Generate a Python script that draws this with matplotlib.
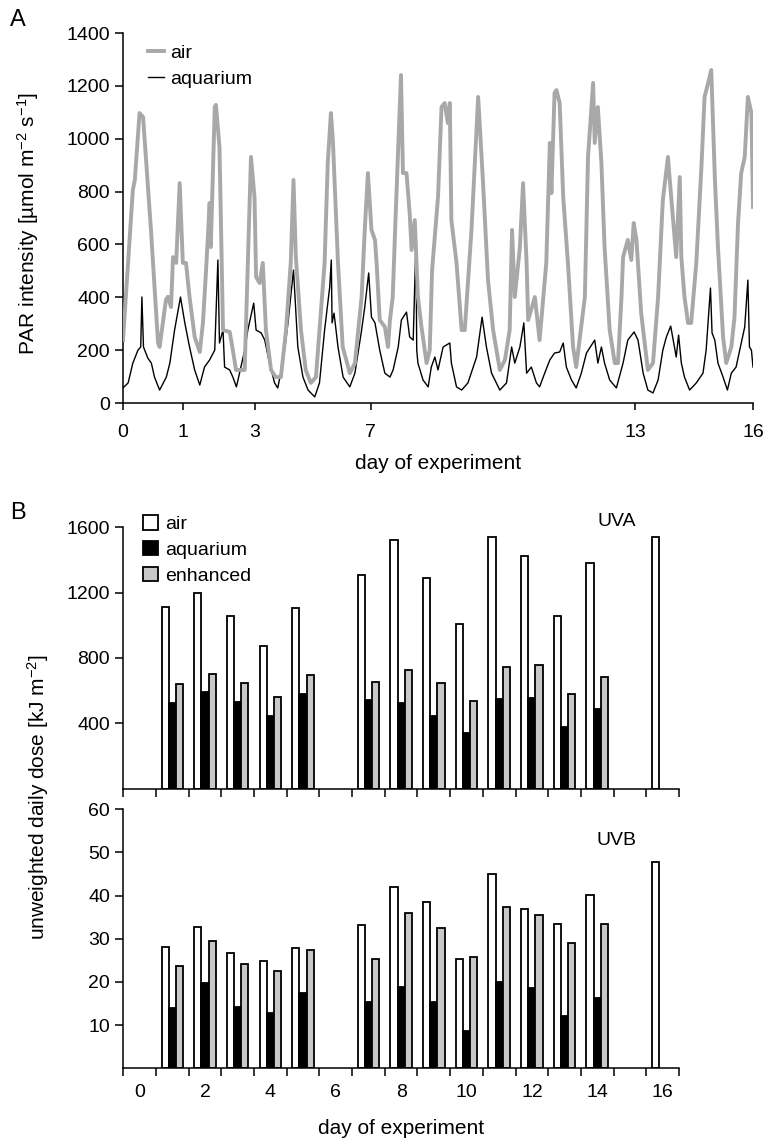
import numpy as np
import matplotlib
matplotlib.use("Agg")
import matplotlib.pyplot as plt
from matplotlib.patches import Patch
from matplotlib.lines import Line2D

plt.rcParams['font.family'] = ['Liberation Sans', 'DejaVu Sans']
plt.rcParams['mathtext.fontset'] = 'custom'
plt.rcParams['mathtext.rm'] = 'Liberation Sans'
plt.rcParams['mathtext.default'] = 'regular'

# --- PAR record (panel A) ---
air_day = [0.00, 0.25, 0.30, 0.42, 0.51, 0.71, 0.89, 0.93, 1.09, 1.14,
           1.22, 1.27, 1.35, 1.44, 1.52, 1.60, 1.69, 1.82, 1.95, 2.03,
           2.11, 2.20, 2.23, 2.33, 2.36, 2.45, 2.54, 2.71, 2.79, 2.87,
           3.09, 3.17, 3.25, 3.34, 3.38, 3.47, 3.55, 3.63, 3.76, 3.88,
           4.01, 4.14, 4.26, 4.33, 4.39, 4.52, 4.64, 4.77, 4.90, 5.12,
           5.20, 5.28, 5.33, 5.46, 5.58, 5.76, 5.89, 6.06, 6.14, 6.22,
           6.31, 6.40, 6.44, 6.52, 6.65, 6.73, 6.78, 6.85, 6.92, 7.06,
           7.11, 7.20, 7.28, 7.33, 7.41, 7.49, 7.58, 7.71, 7.79, 7.85,
           8.00, 8.09, 8.17, 8.25, 8.30, 8.34, 8.47, 8.60, 8.68, 8.85,
           9.02, 9.14, 9.27, 9.40, 9.57, 9.70, 9.82, 9.88, 9.95, 10.08,
           10.16, 10.25, 10.29, 10.46, 10.58, 10.75, 10.84, 10.88, 10.96, 11.01,
           11.09, 11.18, 11.30, 11.43, 11.51, 11.73, 11.81, 11.94, 11.98, 12.06,
           12.15, 12.23, 12.36, 12.49, 12.57, 12.66, 12.70, 12.82, 12.91, 12.97,
           13.04, 13.16, 13.33, 13.46, 13.59, 13.71, 13.84, 13.88, 14.05, 14.14,
           14.18, 14.26, 14.35, 14.43, 14.56, 14.69, 14.77, 14.86, 14.94, 15.03,
           15.11, 15.24, 15.32, 15.45, 15.53, 15.62, 15.70, 15.79, 15.87, 15.96,
           16.00]
air_par = [238, 806, 844, 1097, 1082, 655, 227, 212, 390, 402,
           363, 552, 530, 832, 530, 530, 401, 250, 193, 303,
           503, 757, 590, 1120, 1128, 969, 276, 269, 200, 125,
           125, 530, 931, 779, 477, 454, 530, 276, 125, 98,
           98, 276, 530, 844, 552, 276, 125, 76, 98, 530,
           908, 1097, 995, 530, 212, 113, 151, 401, 655, 870,
           655, 617, 530, 314, 288, 212, 314, 401, 692, 1241,
           870, 870, 719, 579, 692, 401, 288, 151, 200, 503,
           779, 1120, 1135, 1059, 1135, 692, 530, 276, 276, 655,
           1158, 844, 465, 276, 125, 163, 276, 655, 401, 590,
           832, 530, 314, 401, 238, 530, 984, 794, 1173, 1184,
           1135, 779, 530, 212, 136, 401, 931, 1211, 984, 1120,
           908, 590, 276, 151, 151, 401, 552, 617, 541, 681,
           617, 340, 125, 151, 401, 768, 931, 855, 552, 855,
           552, 401, 303, 303, 530, 893, 1158, 1211, 1260, 855,
           590, 250, 151, 212, 325, 681, 870, 931, 1158, 1097,
           742]

aq_day = [0.00, 0.13, 0.25, 0.38, 0.45, 0.48, 0.52, 0.63, 0.72, 0.80,
          0.93, 1.10, 1.19, 1.31, 1.46, 1.57, 1.69, 1.82, 1.95, 2.07,
          2.20, 2.33, 2.41, 2.45, 2.54, 2.58, 2.71, 2.79, 2.88, 2.96,
          3.09, 3.17, 3.32, 3.38, 3.51, 3.60, 3.72, 3.85, 3.93, 4.06,
          4.19, 4.33, 4.44, 4.57, 4.70, 4.87, 4.99, 5.12, 5.25, 5.29,
          5.31, 5.36, 5.46, 5.59, 5.76, 5.89, 6.06, 6.14, 6.24, 6.31,
          6.40, 6.52, 6.65, 6.78, 6.86, 6.99, 7.07, 7.20, 7.28, 7.37,
          7.44, 7.46, 7.49, 7.62, 7.75, 7.83, 7.92, 8.00, 8.13, 8.30,
          8.34, 8.47, 8.60, 8.76, 8.98, 9.12, 9.23, 9.36, 9.57, 9.74,
          9.87, 9.95, 10.08, 10.18, 10.25, 10.37, 10.50, 10.58, 10.71, 10.84,
          10.96, 11.09, 11.18, 11.26, 11.39, 11.51, 11.64, 11.77, 11.98, 12.06,
          12.15, 12.23, 12.36, 12.53, 12.70, 12.82, 12.98, 13.08, 13.21, 13.33,
          13.46, 13.59, 13.71, 13.80, 13.91, 14.05, 14.11, 14.18, 14.26, 14.39,
          14.56, 14.73, 14.81, 14.92, 14.96, 15.03, 15.11, 15.24, 15.35, 15.45,
          15.57, 15.70, 15.79, 15.87, 15.91, 15.96, 16.00]
aq_par = [57, 76, 151, 200, 212, 401, 212, 170, 151, 98,
          49, 98, 151, 276, 401, 303, 212, 125, 68, 136,
          163, 200, 541, 227, 276, 136, 125, 98, 61, 113,
          200, 276, 378, 276, 265, 238, 151, 76, 57, 151,
          303, 503, 212, 98, 49, 23, 76, 276, 439, 541,
          303, 340, 212, 98, 61, 113, 276, 363, 492, 325,
          303, 200, 113, 98, 125, 212, 314, 344, 250, 238,
          609, 200, 151, 87, 61, 136, 174, 125, 212, 227,
          151, 61, 49, 76, 174, 325, 212, 113, 49, 76,
          212, 151, 212, 303, 113, 136, 76, 61, 113, 163,
          189, 193, 227, 136, 87, 57, 113, 189, 238, 151,
          212, 151, 87, 57, 151, 238, 269, 238, 113, 49,
          38, 87, 200, 250, 291, 174, 257, 151, 98, 49,
          76, 113, 200, 435, 265, 238, 151, 98, 49, 113,
          136, 227, 288, 465, 212, 200, 136]

par_tick_pos = [0, 1.52, 3.35, 6.29, 13.0, 16.0]
par_tick_labels = ['0', '1', '3', '7', '13', '16']

# --- daily UV doses (panel B) ---
air_days = [1, 2, 3, 4, 5, 7, 8, 9, 10, 11, 12, 13, 14, 16]
uv_days = [1, 2, 3, 4, 5, 7, 8, 9, 10, 11, 12, 13, 14]
uva_air = [1113, 1199, 1056, 873, 1103, 1305, 1525, 1287, 1007, 1538, 1425, 1058, 1379, 1541]
uva_aq = [526, 590, 532, 445, 580, 542, 526, 447, 338, 547, 558, 379, 488]
uva_enh = [640, 701, 645, 562, 694, 655, 726, 645, 535, 746, 757, 579, 685]
uvb_air = [28.0, 32.7, 26.8, 24.8, 27.8, 33.1, 42.1, 38.5, 25.3, 45.1, 36.9, 33.4, 40.2, 47.9]
uvb_aq = [14.0, 19.7, 14.3, 12.8, 17.4, 15.4, 18.8, 15.4, 8.7, 20.1, 18.6, 12.1, 16.4]
uvb_enh = [23.7, 29.6, 24.2, 22.6, 27.5, 25.3, 35.9, 32.4, 25.7, 37.3, 35.6, 29.1, 33.4]

TICK_FS = 14
LABEL_FS = 15
AIR_GREY = '#a8a8a8'
ENH_GREY = '#c8c8c8'

W, H = 767, 1140
fig = plt.figure(figsize=(W / 100, H / 100), dpi=100)


def px_axes(left, right, top, bottom):
    return fig.add_axes([left / W, 1 - bottom / H, (right - left) / W, (bottom - top) / H])


def style(ax, xlen=5, ylen=5):
    for s in ('top', 'right'):
        ax.spines[s].set_visible(False)
    for s in ('left', 'bottom'):
        ax.spines[s].set_linewidth(1.1)
    ax.tick_params(axis='x', direction='out', length=xlen, width=1.1, labelsize=TICK_FS)
    ax.tick_params(axis='y', direction='out', length=ylen, width=1.1, labelsize=TICK_FS)


# panel A
axA = px_axes(123, 753, 33, 403)
axA.plot(aq_day, aq_par, color='black', lw=1.0, zorder=2)
axA.plot(air_day, air_par, color=AIR_GREY, lw=2.8, zorder=3)
axA.set_xlim(0, 16)
axA.set_ylim(0, 1400)
axA.set_yticks(np.arange(0, 1401, 200))
axA.set_xticks(par_tick_pos)
axA.set_xticklabels(par_tick_labels)
style(axA, 5, 6)
axA.tick_params(axis='x', pad=10)
axA.set_ylabel('PAR intensity [µmol m$^{-2}$ s$^{-1}$]', fontsize=LABEL_FS)
axA.yaxis.set_label_coords(-0.13, 0.484)
axA.set_xlabel('day of experiment', fontsize=LABEL_FS)
axA.xaxis.set_label_coords(0.5, -0.138)
handles = [Line2D([], [], color=AIR_GREY, lw=2.8), Line2D([], [], color='black', lw=1.0)]
axA.legend(handles, ['air', 'aquarium'], loc='upper left', bbox_to_anchor=(0.028, 0.99),
           frameon=False, fontsize=TICK_FS, handlelength=0.8, handletextpad=0.3,
           labelspacing=0.42, borderaxespad=0)
fig.text(10 / W, 1 - 20 / H, 'A', fontsize=17, va='center', ha='left')

# panel B
bw = 0.22


def dose_panel(ax, air, aq, enh, ymax, yticks):
    ax.bar(np.array(air_days) - bw, air, bw, color='white', edgecolor='black', lw=1.3)
    ax.bar(np.array(uv_days), aq, bw, color='black', edgecolor='black', lw=1.3)
    ax.bar(np.array(uv_days) + bw, enh, bw, color=ENH_GREY, edgecolor='black', lw=1.3)
    ax.set_xlim(-0.5, 16.5)
    ax.set_ylim(0, ymax)
    ax.set_yticks(yticks)
    ax.set_xticks(np.arange(-0.5, 17, 1))
    ax.set_xticklabels([])
    style(ax, 6, 6)


axUVA = px_axes(123.3, 679, 527.3, 788.7)
dose_panel(axUVA, uva_air, uva_aq, uva_enh, 1600, [400, 800, 1200, 1600])
axUVA.text(0.888, 1.024, 'UVA', transform=axUVA.transAxes, fontsize=TICK_FS,
           ha='center', va='center')
leg_handles = [Patch(facecolor='white', edgecolor='black', lw=1.3),
               Patch(facecolor='black', edgecolor='black', lw=1.3),
               Patch(facecolor=ENH_GREY, edgecolor='black', lw=1.3)]
axUVA.legend(leg_handles, ['air', 'aquarium', 'enhanced'], loc='upper left',
             bbox_to_anchor=(0.022, 1.075), frameon=False, fontsize=TICK_FS,
             handlelength=0.75, handleheight=0.75, handletextpad=0.35,
             labelspacing=0.4, borderaxespad=0)

axUVB = px_axes(123.3, 679, 809.3, 1068.3)
dose_panel(axUVB, uvb_air, uvb_aq, uvb_enh, 60, np.arange(10, 61, 10))
axUVB.set_xticks(np.arange(0, 17, 2), minor=True)
axUVB.set_xticklabels([str(d) for d in range(0, 17, 2)], minor=True)
axUVB.tick_params(axis='x', which='minor', length=0, labelsize=TICK_FS, pad=11)
axUVB.text(0.888, 0.881, 'UVB', transform=axUVB.transAxes, fontsize=TICK_FS,
           ha='center', va='center')
axUVB.set_xlabel('day of experiment', fontsize=LABEL_FS)
axUVB.xaxis.set_label_coords(0.5, -0.195)

fig.text(38 / W, 1 - 797 / H, 'unweighted daily dose [kJ m$^{-2}$]', fontsize=LABEL_FS,
         rotation=90, ha='center', va='center')
fig.text(10 / W, 1 - 513 / H, 'B', fontsize=17, va='center', ha='left')

fig.savefig('out.png', dpi=100)
